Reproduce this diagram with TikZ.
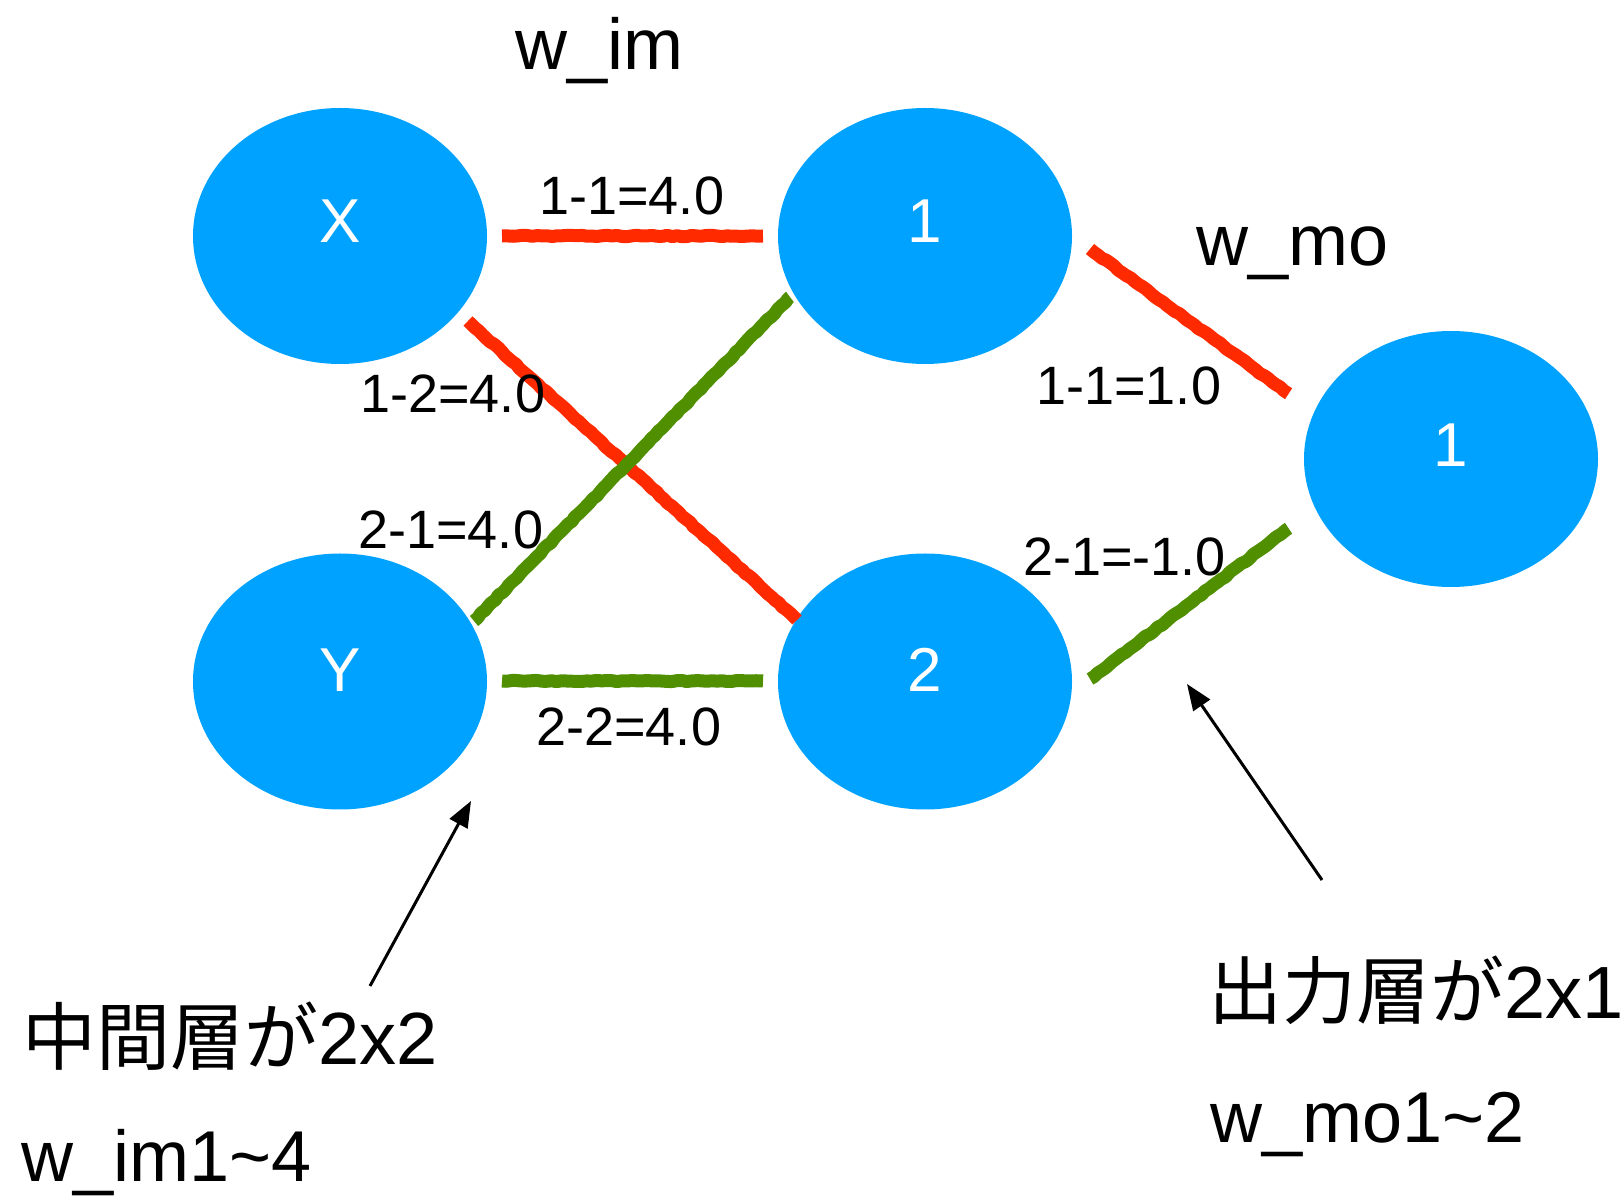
\documentclass[tikz,border=0pt]{standalone}
\usepackage{fontspec}
\setmainfont{Liberation Sans}
\newfontfamily\cjk{Noto Sans CJK JP}
\usetikzlibrary{shapes.geometric,arrows.meta,decorations.pathmorphing}
\definecolor{nodeblue}{HTML}{00A2FF}
\definecolor{wred}{HTML}{FF2A00}
\definecolor{wgreen}{HTML}{4F8F00}
\begin{document}
\begin{tikzpicture}[x=0.5pt,y=-0.5pt,
  neuron/.style={ellipse, fill=nodeblue, draw=none, minimum width=147pt, minimum height=128pt, inner sep=0pt},
  nlabel/.style={text=white, font=\fontsize{31pt}{34pt}\selectfont, inner sep=0pt},
  wlabel/.style={font=\fontsize{27pt}{30pt}\selectfont, inner sep=0pt, anchor=base west},
  bigtext/.style={font=\fontsize{36pt}{40pt}\selectfont, inner sep=0pt, anchor=base west},
  cjktext/.style={font=\fontsize{37pt}{40pt}\selectfont, inner sep=0pt, anchor=base west},
  chalk/.style={draw=#1, line width=6.5pt, line cap=butt, rounded corners=0.5pt, decorate, decoration={random steps, segment length=2.5pt, amplitude=0.35pt}},
  pointer/.style={-{Triangle[length=13pt,width=10pt]}, line width=1.5pt, black}
]
\pgfmathsetseed{7}
\useasboundingbox (0,0) rectangle (1624,1197);
% neurons
\node[neuron] (X) at (340,236) {};
\node[neuron] (Y) at (340,681.5) {};
\node[neuron] (H1) at (925,236) {};
\node[neuron] (H2) at (925,681.5) {};
\node[neuron] (O) at (1451,459) {};
\node[nlabel] (tX) at (340,221) {X};
\node[nlabel] (tY) at (340,670) {Y};
\node[nlabel] (tH1) at (925,221) {1};
\node[nlabel] (tH2) at (925,670) {2};
\node[nlabel] (tO) at (1451,445) {1};
% weight line end points
\coordinate (a1) at (502,236);  \coordinate (b1) at (763,236);
\coordinate (a2) at (468,321);  \coordinate (b2) at (797,620);
\coordinate (a3) at (474,621);  \coordinate (b3) at (790,297);
\coordinate (a4) at (502,681);  \coordinate (b4) at (763,681);
\coordinate (a5) at (1090,249); \coordinate (b5) at (1289,394);
\coordinate (a6) at (1090,679); \coordinate (b6) at (1289,528);
\draw[chalk=wred] (a1) -- (b1);
\draw[chalk=wred] (a2) -- (b2);
\draw[chalk=wgreen] (a3) -- (b3);
\draw[chalk=wgreen] (a4) -- (b4);
\draw[chalk=wred] (a5) -- (b5);
\draw[chalk=wgreen] (a6) -- (b6);
% weight labels
\node[wlabel] (l1) at (539,215) {1-1=4.0};
\node[wlabel] (l2) at (360,413) {1-2=4.0};
\node[wlabel] (l3) at (358,549) {2-1=4.0};
\node[wlabel] (l4) at (536,746) {2-2=4.0};
\node[wlabel] (l5) at (1036,405) {1-1=1.0};
\node[wlabel] (l6) at (1023,576) {2-1=-1.0};
% titles
\node[bigtext] (wim) at (515,70) {w\_im};
\node[bigtext] (wmo) at (1196,266) {w\_mo};
\node[cjktext] (mid) at (22,1064) {{\cjk 中間層が}2x2};
\node[bigtext] (midw) at (21,1181) {w\_im1\char`~4};
\node[cjktext] (out) at (1208,1018) {{\cjk 出力層が}2x1};
\node[bigtext] (outw) at (1210,1142) {w\_mo1\char`~2};
% pointers
\coordinate (p1) at (370,986); \coordinate (q1) at (471,801);
\coordinate (p2) at (1322,880); \coordinate (q2) at (1187,684);
\draw[pointer] (p1) -- (q1);
\draw[pointer] (p2) -- (q2);
\end{tikzpicture}
\end{document}
